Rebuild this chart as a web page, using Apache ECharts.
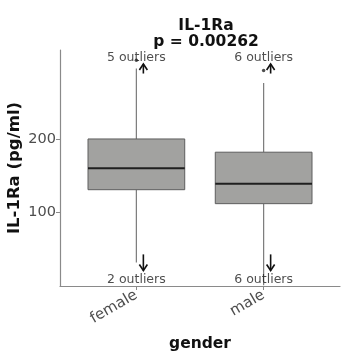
<!DOCTYPE html>
<html>
<head>
<meta charset="utf-8">
<script src="https://cdn.jsdelivr.net/npm/echarts@6/dist/echarts.min.js"></script>
<style>html,body{margin:0;padding:0;background:#fff}#c{width:347px;height:361px}</style>
</head>
<body>
<div id="c"></div>
<script>
const categories = ['female', 'male'];
const whiskerLow = [32, 1];
const q1 = [131, 112];
const median = [160, 139];
const q3 = [200, 182];
const whiskerHigh = [296, 276];
const outlierPoints = [[1, 307], [2, 293]];
const upOutlierCounts = [5, 6];
const downOutlierCounts = [2, 6];
const arrowUpFrom = [289, 289];
const arrowUpTo = [302, 302];
const arrowDownFrom = [43, 43];
const arrowDownTo = [21, 21];
const topLabelValue = 310;
const bottomLabelValue = 9;
const yTicks = [100, 200];

const FONT = 'DejaVu Sans';
const boxData = categories.map((c, i) => [i + 1, whiskerLow[i], q1[i], median[i], q3[i], whiskerHigh[i]]);
const upArrows = categories.map((c, i) => [i + 1, arrowUpFrom[i], arrowUpTo[i]]);
const downArrows = categories.map((c, i) => [i + 1, arrowDownFrom[i], arrowDownTo[i]]);
const topLabels = categories.map((c, i) => [i + 1, topLabelValue, upOutlierCounts[i]]);
const bottomLabels = categories.map((c, i) => [i + 1, bottomLabelValue, downOutlierCounts[i]]);

function renderBox(params, api) {
  const x = api.value(0);
  const lo = api.coord([x, api.value(1)]);
  const a = api.coord([x, api.value(2)]);
  const m = api.coord([x, api.value(3)]);
  const b = api.coord([x, api.value(4)]);
  const hi = api.coord([x, api.value(5)]);
  const hw = api.size([0.38, 0])[0];
  const wStyle = {stroke: '#7a7a7a', lineWidth: 1.2};
  return {
    type: 'group',
    children: [
      {type: 'line', shape: {x1: hi[0], y1: hi[1], x2: b[0], y2: b[1]}, style: wStyle},
      {type: 'line', shape: {x1: a[0], y1: a[1], x2: lo[0], y2: lo[1]}, style: wStyle},
      {type: 'rect', shape: {x: b[0] - hw, y: b[1], width: 2 * hw, height: a[1] - b[1]},
        style: {fill: '#a2a2a0', stroke: '#5e5e5e', lineWidth: 1}},
      {type: 'line', shape: {x1: m[0] - hw, y1: m[1], x2: m[0] + hw, y2: m[1]},
        style: {stroke: '#1f1f1f', lineWidth: 2}}
    ]
  };
}

function renderArrow(params, api) {
  const x = api.value(0);
  const p0 = api.coord([x, api.value(1)]);
  const p1 = api.coord([x, api.value(2)]);
  const dx = 7;
  const dir = p1[1] < p0[1] ? 1 : -1;
  const tx = p1[0] + dx, ty = p1[1];
  return {
    type: 'group',
    children: [
      {type: 'line', shape: {x1: p0[0] + dx, y1: p0[1], x2: tx, y2: ty}, style: {stroke: '#111', lineWidth: 1.6}},
      {type: 'polyline', shape: {points: [[tx - 4, ty + dir * 6], [tx, ty], [tx + 4, ty + dir * 6]]},
        style: {stroke: '#111', lineWidth: 1.6, fill: null}}
    ]
  };
}

const labelSeries = (data) => ({
  type: 'scatter', data: data, symbolSize: 0, silent: true, z: 5,
  label: {show: true, position: 'inside', formatter: p => p.value[2] + ' outliers',
    fontFamily: FONT, fontSize: 12.5, color: '#222'}
});

const chart = echarts.init(document.getElementById('c'), null, {renderer: 'canvas'});
chart.setOption({
  animation: false,
  backgroundColor: '#fff',
  title: {
    text: 'IL-1Ra\np = 0.00262', left: 201, top: 13, textAlign: 'center',
    textStyle: {fontFamily: FONT, fontSize: 15.5, fontWeight: 'bold', color: '#111', lineHeight: 16}
  },
  grid: {left: 60, right: 7, top: 50, bottom: 75, containLabel: false, outerBoundsMode: 'none'},
  xAxis: {
    type: 'value', min: 0.4, max: 2.6,
    name: 'gender', nameLocation: 'middle', nameGap: 50, nameMoveOverlap: false,
    nameTextStyle: {fontFamily: FONT, fontSize: 15.5, fontWeight: 'bold', color: '#111'},
    splitLine: {show: false},
    axisLine: {show: true, lineStyle: {color: '#8a8a8a', width: 1.2}},
    axisTick: {show: true, customValues: [1, 2], length: 4, lineStyle: {color: '#8a8a8a'}},
    axisLabel: {customValues: [1, 2], rotate: 30, margin: 8, formatter: v => categories[Math.round(v) - 1] || '',
      fontFamily: FONT, fontSize: 15, color: '#4d4d4d'}
  },
  yAxis: {
    type: 'value', min: 0, max: 321,
    name: 'IL-1Ra (pg/ml)', nameLocation: 'middle', nameGap: 37, nameMoveOverlap: false,
    nameTextStyle: {fontFamily: FONT, fontSize: 16.5, fontWeight: 'bold', color: '#111'},
    splitLine: {show: false},
    axisLine: {show: true, lineStyle: {color: '#8a8a8a', width: 1.2}},
    axisTick: {show: true, customValues: yTicks, length: 4, lineStyle: {color: '#8a8a8a'}},
    axisLabel: {customValues: yTicks, margin: 4, fontFamily: FONT, fontSize: 14.5, color: '#4d4d4d'}
  },
  series: [
    {type: 'custom', renderItem: renderBox, data: boxData, silent: true, z: 2},
    {type: 'scatter', data: outlierPoints, symbolSize: 3.5, itemStyle: {color: '#222'}, silent: true, z: 3},
    {type: 'custom', renderItem: renderArrow, data: upArrows, silent: true, z: 4},
    {type: 'custom', renderItem: renderArrow, data: downArrows, silent: true, z: 4},
    labelSeries(topLabels),
    labelSeries(bottomLabels)
  ]
});
</script>
</body>
</html>
